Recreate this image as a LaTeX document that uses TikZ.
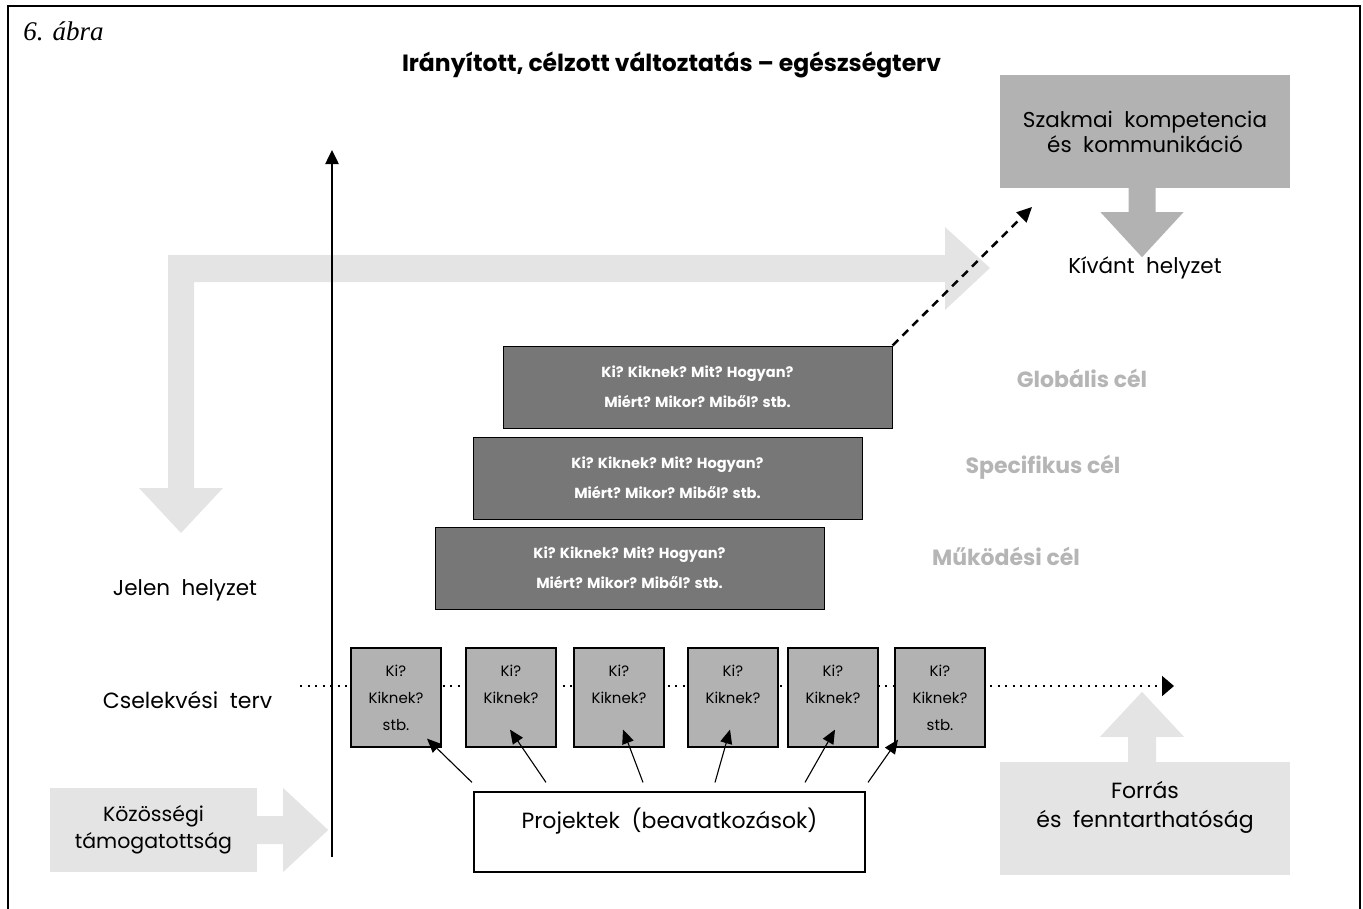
\documentclass[tikz,border=0pt]{standalone}
\usepackage{fontspec}
\setmainfont{Poppins}
\newfontfamily\captionfont{Liberation Serif}
\usetikzlibrary{arrows.meta,calc}

\definecolor{bandgray}{HTML}{E4E4E4}
\definecolor{midgray}{HTML}{B2B2B2}
\definecolor{goalgray}{HTML}{777777}
\definecolor{labelgray}{HTML}{B5B5B5}

\begin{document}
\begin{tikzpicture}[x=1pt,y=-1pt,
  txt/.style={inner sep=0pt, align=center, font=\fontsize{21.5}{26}\selectfont},
  goalbox/.style={draw=black, line width=1pt, fill=goalgray, text=white,
    minimum width=389pt, minimum height=82pt, inner sep=0pt, align=center,
    font=\bfseries\fontsize{14.6}{30}\selectfont},
  goallabel/.style={inner sep=0pt, text=labelgray, font=\bfseries\fontsize{22}{26}\selectfont},
  planbox/.style={draw=black, line width=1.2pt, fill=midgray, minimum width=90pt,
    minimum height=99pt, inner sep=0pt, align=center,
    font=\fontsize{15}{27}\selectfont},
  projarrow/.style={line width=1.1pt, -{Triangle[length=14pt,width=12pt]}},
]
\useasboundingbox (0,0) rectangle (1363,908);

% outer frame
\draw[line width=2.5pt] (8,6) rectangle (1360,940);

% caption and title
\node[inner sep=0pt, font=\captionfont\itshape\fontsize{27}{30}\selectfont] (cap) at (63.5,31) {6. ábra};
\node[inner sep=0pt, font=\bfseries\fontsize{23.5}{28}\selectfont] (title) at (671.5,65)
  {Irányított, célzott változtatás – egészségterv};

% large light band arrow: from the desired state back down to the present state
\fill[bandgray] (181,533) -- (139,488) -- (168,488) -- (168,255) -- (945,255) -- (945,227)
  -- (990,268) -- (945,310) -- (945,282) -- (194,282) -- (194,488) -- (223,488) -- cycle;

% vertical axis
\coordinate (axisbot) at (332,857);
\coordinate (axistop) at (332,150);
\draw[line width=2.5pt, -{Triangle[length=14pt,width=13pt]}] (axisbot) -- (axistop);

% side labels
\node[txt] (jelen) at (185,590) {Jelen\ \ helyzet};
\node[txt, font=\fontsize{22}{26}\selectfont] (csel) at (187.5,700) {Cselekvési\ \ terv};
\node[txt] (kivant) at (1145,268) {Kívánt\ \ helyzet};

% professional competence box with arrow
\node[txt, fill=midgray, minimum width=290pt, minimum height=113pt, font=\fontsize{21.5}{25}\selectfont]
  (szak) at (1145,131.5) {Szakmai\ \ kompetencia\\és\ \ kommunikáció};
\fill[midgray] ($(szak.south)+(-16.5,0)$) -- ++(27,0) -- ++(0,24) -- ++(28,0) -- ++(-41.5,45)
  -- ++(-41.5,-45) -- ++(28,0) -- cycle;

% goal boxes
\node[goalbox] (g1) at (697.5,387) {Ki? Kiknek? Mit? Hogyan?\\Miért? Mikor? Miből? stb.};
\node[goalbox] (g2) at (667.5,478) {Ki? Kiknek? Mit? Hogyan?\\Miért? Mikor? Miből? stb.};
\node[goalbox] (g3) at (629.5,568) {Ki? Kiknek? Mit? Hogyan?\\Miért? Mikor? Miből? stb.};
\node[goallabel] (l1) at (1082,378) {Globális cél};
\node[goallabel] (l2) at (1043,467) {Specifikus cél};
\node[goallabel] (l3) at (1006,556) {Működési cél};

% dashed arrow towards the desired state
\coordinate (dashend) at (1032,207);
\draw[line width=2.5pt, dash pattern=on 8pt off 6pt, -{Triangle[length=15pt,width=14pt]}]
  (g1.north east) -- (dashend);

% action plan timeline
\coordinate (planstart) at (300,686);
\coordinate (planend) at (1174,686);
\draw[line width=2pt, dash pattern=on 2pt off 5.5pt, -{Triangle[length=12pt,width=20pt]}]
  (planstart) -- (planend);
\node[planbox] (p1) at (396,697.5) {Ki?\\Kiknek?\\stb.};
\node[planbox] (p2) at (511,697.5) {Ki?\\Kiknek?\\\phantom{stb.}};
\node[planbox] (p3) at (619,697.5) {Ki?\\Kiknek?\\\phantom{stb.}};
\node[planbox] (p4) at (733,697.5) {Ki?\\Kiknek?\\\phantom{stb.}};
\node[planbox] (p5) at (833,697.5) {Ki?\\Kiknek?\\\phantom{stb.}};
\node[planbox] (p6) at (940,697.5) {Ki?\\Kiknek?\\stb.};

% projects box and its arrows
\node[txt, draw=black, line width=1.2pt, minimum width=391pt, minimum height=80pt,
  font=\fontsize{22}{28}\selectfont] (proj) at (669.5,832) {Projektek\ \ (beavatkozások)\\\phantom{x}};
\draw[projarrow] ($(proj.north)+(-197.5,-9)$) -- ($(p1.south)+(31,-9)$);
\draw[projarrow] ($(proj.north)+(-123.5,-9)$) -- ($(p2.south)+(-1,-18)$);
\draw[projarrow] ($(proj.north)+(-26.5,-9)$) -- ($(p3.south)+(4,-18)$);
\draw[projarrow] ($(proj.north)+(45.5,-9)$) -- ($(p4.south)+(-3,-18)$);
\draw[projarrow] ($(proj.north)+(135.5,-9)$) -- ($(p5.south)+(2,-18)$);
\draw[projarrow] ($(proj.north)+(198.5,-9)$) -- ($(p6.south)+(-42,-8)$);

% community support
\node[txt, fill=bandgray, minimum width=207pt, minimum height=84pt, font=\fontsize{20.5}{27}\selectfont]
  (kozos) at (153.5,830) {Közösségi\\támogatottság};
\fill[bandgray] ($(kozos.east)+(0,-14)$) -- ++(26,0) -- ++(0,-28) -- ++(45,42) -- ++(-45,42)
  -- ++(0,-28) -- ++(-26,0) -- cycle;

% resources and sustainability
\node[txt, fill=bandgray, minimum width=290pt, minimum height=113pt, font=\fontsize{22}{29}\selectfont]
  (forras) at (1145,818.5) {Forrás\\és\ \ fenntarthatóság\\\phantom{x}};
\fill[bandgray] ($(forras.north)+(-17,0)$) -- ++(0,-25) -- ++(-28,0) -- ++(42,-45) -- ++(42,45)
  -- ++(-28,0) -- ++(0,25) -- cycle;
\end{tikzpicture}
\end{document}
